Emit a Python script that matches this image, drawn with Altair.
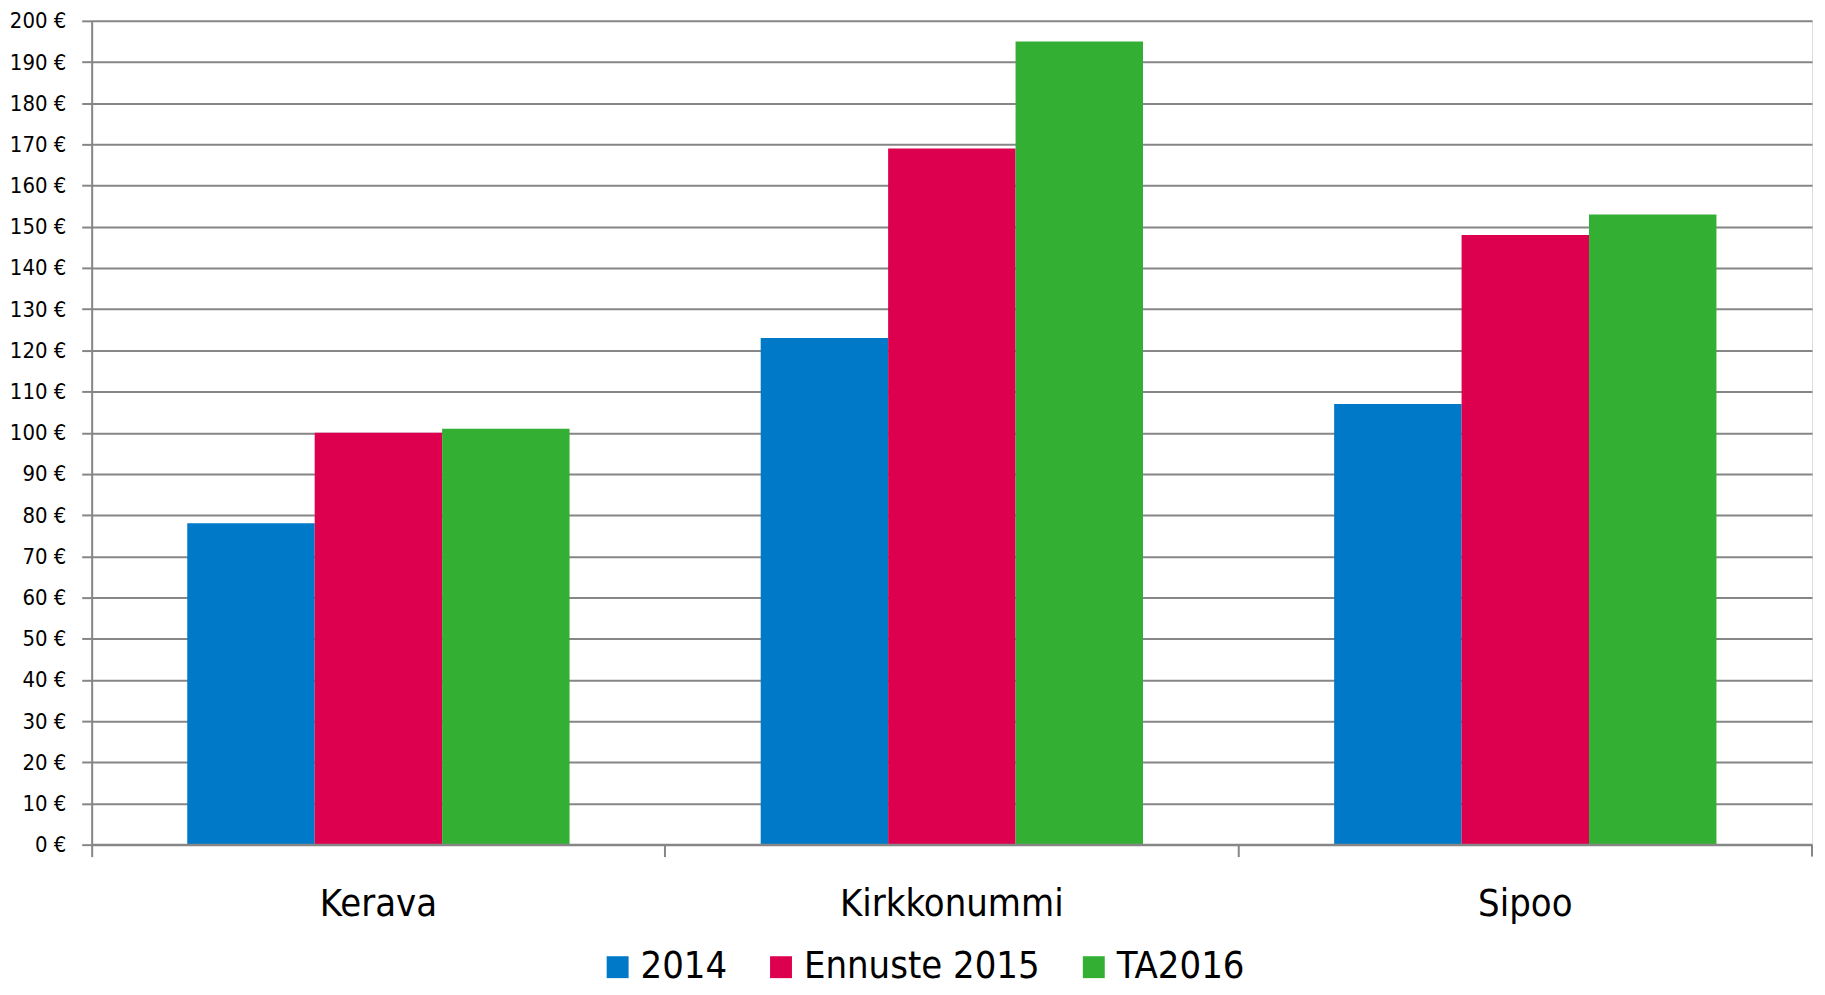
import altair as alt
import pandas as pd

categories = ["Kerava", "Kirkkonummi", "Sipoo"]
series = ["2014", "Ennuste 2015", "TA2016"]
values_2014 = [78, 123, 107]
values_2015 = [100, 169, 148]
values_2016 = [101, 195, 153]
colors = ["#0079C8", "#DC004E", "#33B034"]
y_ticks = list(range(0, 201, 10))

rows = []
for s, vals in zip(series, [values_2014, values_2015, values_2016]):
    for c, v in zip(categories, vals):
        rows.append({"kunta": c, "sarja": s, "arvo": v})
df = pd.DataFrame(rows)

FONT = "DejaVu Sans Condensed, Liberation Sans, sans-serif"
W, H = 1727, 827
GRID = "#868686"

bars = alt.Chart(df).mark_bar().encode(
    x=alt.X("kunta:N", sort=categories, title=None,
            scale=alt.Scale(paddingInner=0, paddingOuter=0),
            axis=alt.Axis(labelAngle=0, labelFontSize=38, labelFont=FONT,
                          labelColor="#000000", labelPadding=29, labelLimit=600,
                          tickSize=12, tickColor=GRID, tickWidth=2,
                          bandPosition=0, domain=False, grid=False)),
    xOffset=alt.XOffset("sarja:N", sort=series,
                        scale=alt.Scale(paddingInner=0, paddingOuter=0.75)),
    y=alt.Y("arvo:Q", title=None,
            scale=alt.Scale(domain=[0, 200], nice=False),
            axis=alt.Axis(values=y_ticks, labelExpr="datum.value + ' €'",
                          labelFontSize=22, labelFont=FONT, labelColor="#000000",
                          labelPadding=16, tickSize=10, tickColor=GRID,
                          tickWidth=2, domainColor=GRID, domainWidth=2,
                          gridColor=GRID, gridWidth=2)),
    color=alt.Color("sarja:N", sort=series,
                    scale=alt.Scale(domain=series, range=colors),
                    legend=alt.Legend(title=None, orient="none", direction="horizontal",
                                      legendX=509, legendY=931,
                                      symbolType="square", symbolSize=484,
                                      symbolStrokeWidth=0, labelFontSize=38,
                                      labelFont=FONT, labelColor="#000000",
                                      labelOffset=4, columnPadding=35,
                                      labelLimit=400)),
)

bottom_line = alt.Chart(pd.DataFrame({"v": [0]})).mark_rule(
    color=GRID, strokeWidth=2).encode(
    y=alt.Y("v:Q", scale=alt.Scale(domain=[0, 200], nice=False)),
)

right_tick = alt.Chart(pd.DataFrame({"v": [0]})).mark_rule(
    color=GRID, strokeWidth=2).encode(
    x=alt.value(W), y=alt.value(H), y2=alt.value(H + 12),
)

chart = alt.layer(bars, bottom_line, right_tick).properties(
    width=W, height=H,
    autosize=alt.AutoSizeParams(type="none"),
    padding={"left": 84, "top": 11, "right": 5, "bottom": 141},
).configure_view(stroke=None).configure(background="#ffffff")

chart.save("out.html", embed_options={"renderer": "svg", "actions": False})
